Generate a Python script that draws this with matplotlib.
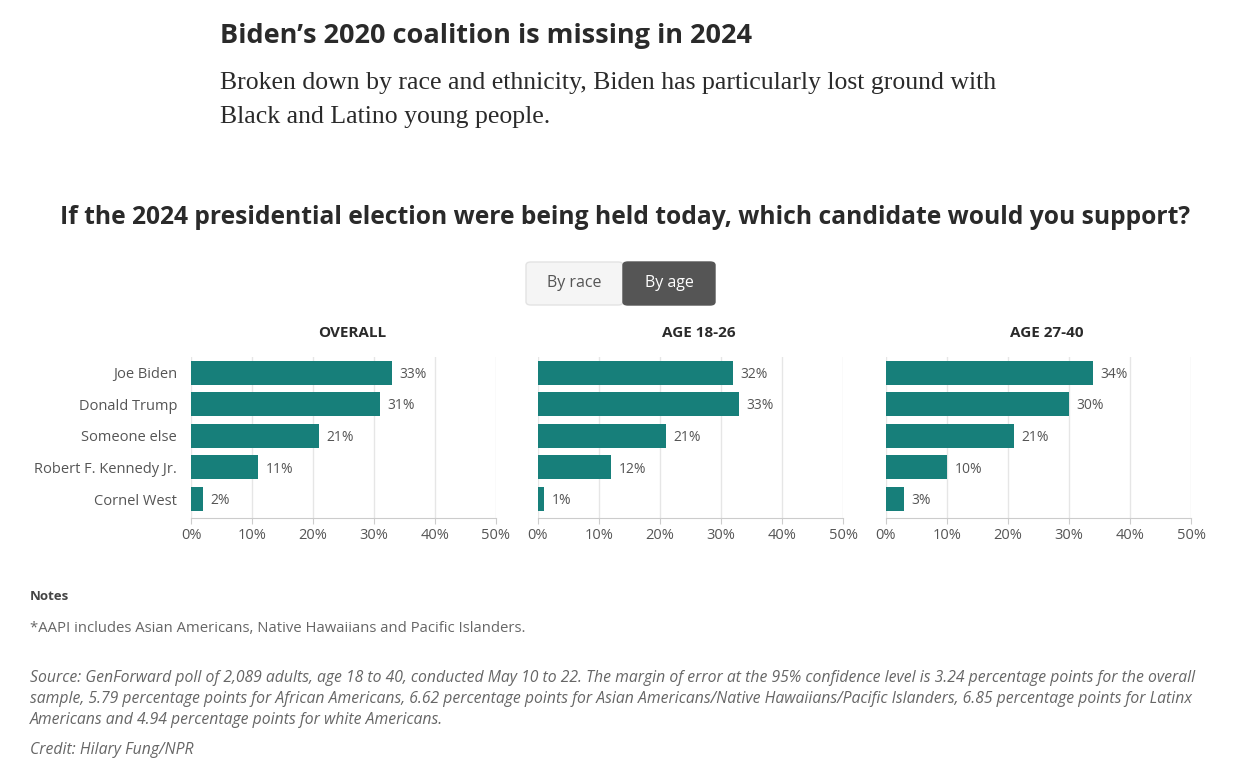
import matplotlib
matplotlib.use("Agg")
import matplotlib.pyplot as plt
from matplotlib.patches import FancyBboxPatch

candidates = ["Joe Biden", "Donald Trump", "Someone else", "Robert F. Kennedy Jr.", "Cornel West"]
panel_titles = ["OVERALL", "AGE 18-26", "AGE 27-40"]
overall = [33, 31, 21, 11, 2]
age_18_26 = [32, 33, 21, 12, 1]
age_27_40 = [34, 30, 21, 10, 3]
x_ticks = [0, 10, 20, 30, 40, 50]
x_tick_labels = ["0%", "10%", "20%", "30%", "40%", "50%"]

teal = "#177f7a"
grey_text = "#555555"
dark_text = "#2a2a2a"
sans = "Open Sans"

plt.rcParams["font.family"] = sans

fig = plt.figure(figsize=(12.49, 7.79), dpi=100)
fig.patch.set_facecolor("white")

W, H = 1249, 779

def fx(px):
    return px / W

def fy(py):
    return 1 - py / H

# headline and subtitle
fig.text(fx(220), fy(36), "Biden\u2019s 2020 coalition is missing in 2024", fontsize=19.5,
         fontweight="bold", color=dark_text, va="center", ha="left")
fig.text(fx(220), fy(83), "Broken down by race and ethnicity, Biden has particularly lost ground with",
         fontsize=18.5, family="Liberation Serif", color=dark_text, va="center", ha="left")
fig.text(fx(220), fy(117), "Black and Latino young people.",
         fontsize=18.5, family="Liberation Serif", color=dark_text, va="center", ha="left")

# question
fig.text(fx(625), fy(218), "If the 2024 presidential election were being held today, which candidate would you support?",
         fontsize=17.7, fontweight="bold", color=dark_text, va="center", ha="center")

# toggle buttons
b1 = FancyBboxPatch((fx(526), fy(305)), fx(623) - fx(526), fy(262) - fy(305),
                    boxstyle="round,pad=0,rounding_size=0.004", transform=fig.transFigure,
                    facecolor="#f5f5f5", edgecolor="#e3e3e3", linewidth=1)
b2 = FancyBboxPatch((fx(623), fy(305)), fx(715) - fx(623), fy(262) - fy(305),
                    boxstyle="round,pad=0,rounding_size=0.004", transform=fig.transFigure,
                    facecolor="#555555", edgecolor="#555555", linewidth=1)
fig.patches.extend([b1, b2])
fig.text(fx(574), fy(283), "By race", fontsize=11.5, color="#555555", ha="center", va="center")
fig.text(fx(669), fy(283), "By age", fontsize=11.5, color="white", ha="center", va="center")

# panels
series = [overall, age_18_26, age_27_40]
lefts = [191, 538, 886]
for i, (vals, left) in enumerate(zip(series, lefts)):
    ax = fig.add_axes([fx(left), fy(518), fx(305), fy(357) - fy(518)])
    ypos = list(range(len(candidates)))
    ax.barh(ypos, vals, height=0.76, color=teal, zorder=3)
    for y, v in zip(ypos, vals):
        ax.text(v + 1.2, y + 0.05, f"{v}%", va="center", ha="left", fontsize=10, color=grey_text)
    ax.set_xlim(0, 50)
    ax.set_ylim(4.6, -0.5)
    ax.set_xticks(x_ticks)
    ax.set_xticklabels(x_tick_labels, fontsize=10.5, color=grey_text)
    ax.grid(axis="x", color="#e6e6e6", linewidth=1, zorder=0)
    for s in ["top", "right", "left"]:
        ax.spines[s].set_visible(False)
    ax.spines["bottom"].set_color("#cccccc")
    ax.tick_params(axis="x", length=4, color="#cccccc", pad=3)
    ax.tick_params(axis="y", length=0, pad=10)
    if i == 0:
        ax.set_yticks(ypos)
        ax.set_yticklabels(candidates, fontsize=10.5, color=grey_text)
    else:
        ax.set_yticks([])
    fig.text(fx(left + 161), fy(333), panel_titles[i], fontsize=11, fontweight="bold",
             color=dark_text, ha="center", va="center")

# notes
fig.text(fx(30), fy(597), "Notes", fontsize=9.5, fontweight="bold", color="#444444", va="center")
fig.text(fx(30), fy(629), "*AAPI includes Asian Americans, Native Hawaiians and Pacific Islanders.",
         fontsize=10.75, color="#666666", va="center")
source_lines = [
    "Source: GenForward poll of 2,089 adults, age 18 to 40, conducted May 10 to 22. The margin of error at the 95% confidence level is 3.24 percentage points for the overall",
    "sample, 5.79 percentage points for African Americans, 6.62 percentage points for Asian Americans/Native Hawaiians/Pacific Islanders, 6.85 percentage points for Latinx",
    "Americans and 4.94 percentage points for white Americans.",
]
for k, line in enumerate(source_lines):
    fig.text(fx(30), fy(678 + 21 * k), line, fontsize=11.3, style="italic", color="#666666", va="center")
fig.text(fx(30), fy(750), "Credit: Hilary Fung/NPR", fontsize=11.3, style="italic", color="#666666", va="center")

fig.savefig("out.png", dpi=100)
